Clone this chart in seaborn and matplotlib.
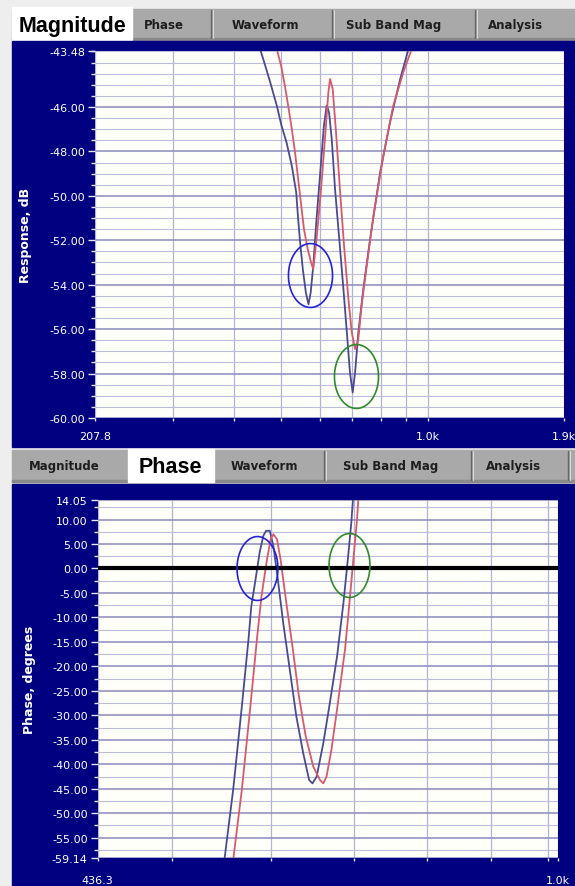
import numpy as np
import matplotlib
matplotlib.use('Agg')
import matplotlib.pyplot as plt
import seaborn as sns
from matplotlib.patches import Rectangle
from matplotlib.path import Path
from matplotlib.ticker import FixedLocator, FixedFormatter, NullFormatter

# ---- magnitude panel data (Hz, dB) ----
mag_blue_freq = [453, 464, 475, 490, 501, 513, 526, 537, 542, 547, 554, 562, 569, 575, 582, 591, 603, 612, 620, 627,
                 635, 645, 658, 671, 682, 692, 701, 709, 720, 737, 761, 798, 836, 877, 912]
mag_blue_db = [-43.4, -44.14, -44.89, -45.94, -46.84, -47.59, -48.65, -49.84, -51.05, -52.10, -53.30, -54.35, -54.88,
               -54.35, -53.15, -51.05, -48.65, -46.84, -45.94, -46.24, -47.44, -49.70, -51.95, -54.20, -56.15, -57.95,
               -58.85, -57.95, -56.15, -54.20, -51.95, -48.94, -46.69, -44.74, -43.4]
mag_red_freq = [490, 500, 509, 517, 526, 534, 542, 549, 557, 567, 576, 582, 591, 603, 615, 625, 630, 638, 648, 660,
                673, 687, 698, 709, 720, 731, 749, 773, 810, 849, 890, 926]
mag_red_db = [-43.4, -44.14, -45.04, -45.94, -46.99, -48.04, -49.25, -50.30, -51.50, -52.40, -53.00, -53.30, -51.95,
              -49.85, -47.44, -45.34, -44.74, -45.19, -47.14, -49.70, -52.25, -54.65, -56.15, -56.90, -56.45, -54.95,
              -53.15, -50.90, -48.20, -45.94, -44.44, -43.4]
mag_ring_freq = [573, 711]
mag_ring_db = [-53.57, -58.11]

mag_yticks = [-43.48, -46, -48, -50, -52, -54, -56, -58, -60]
mag_ylabels = ['-43.48', '-46.00', '-48.00', '-50.00', '-52.00', '-54.00', '-56.00', '-58.00', '-60.00']
mag_xticks = [207.8, 1000, 1900]
mag_xlabels = ['207.8', '1.0k', '1.9k']
mag_xminor = [300, 400, 500, 600, 700, 800, 900]

# ---- phase panel data (Hz, degrees) ----
phase_blue_freq = [551, 560, 569, 576, 579, 583, 588, 592, 595, 599, 603, 607, 614, 622, 629, 637, 644, 648, 653,
                   661, 669, 678, 686, 692, 696, 699]
phase_blue_deg = [-59.6, -45.2, -28.2, -14.5, -7.7, -2.9, 3.3, 6.7, 7.7, 7.7, 4.6, -0.8, -11.1, -21.3, -30.2, -37.7,
                  -43.2, -43.9, -42.5, -35.7, -27.5, -17.9, -7.0, 2.6, 9.4, 16.2]
phase_red_freq = [560, 569, 578, 585, 590, 596, 600, 603, 607, 611, 617, 625, 632, 640, 649, 657, 661, 665, 671,
                  679, 688, 694, 699, 703, 706]
phase_red_deg = [-59.6, -45.2, -28.2, -14.5, -5.6, 1.9, 6.0, 7.0, 6.0, 1.9, -6.3, -16.5, -26.1, -34.3, -40.5, -43.2,
                 -43.9, -42.5, -37.0, -27.5, -16.5, -6.3, 2.6, 9.4, 16.2]
phase_ring_freq = [585, 693]
phase_ring_deg = [0.0, 0.7]

phase_yticks = [14.05, 10, 5, 0, -5, -10, -15, -20, -25, -30, -35, -40, -45, -50, -55, -59.14]
phase_ylabels = ['14.05', '10.00', '5.00', '0.00', '-5.00', '-10.00', '-15.00', '-20.00', '-25.00', '-30.00',
                 '-35.00', '-40.00', '-45.00', '-50.00', '-55.00', '-59.14']
phase_xticks = [436.3, 1018]
phase_xlabels = ['436.3', '1.0k']
phase_xminor = [500, 600, 700, 800, 900, 1000]

ring_colors = ['#2323d8', '#2f8a2f']
blue_line = '#4a4a92'
red_line = '#d8586e'
navy = '#000080'

sns.set_theme(style='white')
plt.rcParams['font.family'] = ['DejaVu Sans']

fig = plt.figure(figsize=(5.75, 8.87), dpi=100)

# window chrome drawn in pixel coordinates
bg = fig.add_axes([0, 0, 1, 1], zorder=0)
bg.set_xlim(0, 575)
bg.set_ylim(887, 0)
bg.axis('off')
bg.add_patch(Rectangle((0, 0), 575, 887, color='#eeeeee'))


def draw_tabs(y0, y1, names, centers, active, active_span, seps):
    bg.add_patch(Rectangle((12, y0), 563, y1 - y0, color='#a9a9a9'))
    bg.add_patch(Rectangle((12, y1 - 2), 563, 2, color='#8a8a8a'))
    for s in seps:
        bg.plot([s, s], [y0 + 1, y1 - 2], color='#666666', lw=1.0)
        bg.plot([s + 1.5, s + 1.5], [y0 + 1, y1 - 2], color='#dcdcdc', lw=0.7)
    a0, a1 = active_span
    bg.add_patch(Rectangle((a0, y0 - 2), a1 - a0, y1 - y0 + 2, color='white'))
    for name, cx in zip(names, centers):
        if name == active:
            bg.text(cx, (y0 + y1) / 2 + 1, name, ha='center', va='center', color='black',
                    fontsize=15.5, fontweight='bold', family=['Liberation Sans', 'DejaVu Sans'])
        else:
            bg.text(cx, (y0 + y1) / 2, name, ha='center', va='center', color='#1e1e1e',
                    fontsize=8.5, fontweight='bold')


tab_names = ['Magnitude', 'Phase', 'Waveform', 'Sub Band Mag', 'Analysis']
draw_tabs(10, 41, tab_names, [72, 164, 265, 394, 515], 'Magnitude', (12, 132), [211, 332, 475])
draw_tabs(451, 483, tab_names, [64, 170, 264, 391, 514], 'Phase', (128, 214), [324, 471, 568])

bg.add_patch(Rectangle((12, 42), 563, 406, color=navy))
bg.add_patch(Rectangle((12, 485), 563, 402, color=navy))

ring_t = np.linspace(0, 2 * np.pi, 80)


def ring_marker(ratio):
    return Path(np.column_stack([ratio * np.cos(ring_t), np.sin(ring_t)]))


def style_axes(ax, xlim, ylim, xt, xl, xminor, yt, yl, yminor, ylabel, label_x, xpad):
    ax.set_facecolor('#fffffa')
    ax.set_xscale('log')
    ax.set_xlim(*xlim)
    ax.set_ylim(*ylim)
    ax.xaxis.set_major_locator(FixedLocator(xt))
    ax.xaxis.set_major_formatter(FixedFormatter(xl))
    ax.xaxis.set_minor_locator(FixedLocator(xminor))
    ax.xaxis.set_minor_formatter(NullFormatter())
    ax.yaxis.set_major_locator(FixedLocator(yt))
    ax.yaxis.set_major_formatter(FixedFormatter(yl))
    ax.yaxis.set_minor_locator(FixedLocator(yminor))
    for s in ax.spines.values():
        s.set_visible(False)
    ax.grid(True, axis='x', which='both', color='#b2b2d4', lw=0.9)
    ax.grid(True, axis='y', which='major', color='#8a8abc', lw=1.1)
    ax.grid(True, axis='y', which='minor', color='#bcbcdc', lw=0.8)
    ax.set_axisbelow(True)
    ax.tick_params(axis='y', which='major', length=5, width=1, color='#e6e6f0', labelcolor='white',
                   labelsize=8, pad=2, left=True)
    ax.tick_params(axis='y', which='minor', length=3, width=1, color='#e6e6f0', left=True)
    ax.tick_params(axis='x', which='both', length=2.5, width=1, color='#e6e6f0', labelcolor='white',
                   labelsize=8, pad=xpad, bottom=True)
    ax.set_xlabel('')
    ax.set_ylabel(ylabel, color='white', fontsize=9, fontweight='bold')
    ax.yaxis.set_label_coords(label_x, 0.5)


# ---- magnitude panel ----
ax1 = fig.add_axes([95 / 575, 1 - 419 / 887, 469 / 575, 367 / 887], zorder=2)
style_axes(ax1, (207.8, 1900), (-60, -43.48), mag_xticks, mag_xlabels, mag_xminor,
           mag_yticks, mag_ylabels, np.arange(-59.5, -43.4, 0.5), 'Response, dB', -0.135, 7)
sns.lineplot(x=mag_blue_freq, y=mag_blue_db, ax=ax1, color=blue_line, lw=1.3, sort=False, estimator=None)
sns.lineplot(x=mag_red_freq, y=mag_red_db, ax=ax1, color=red_line, lw=1.3, sort=False, estimator=None)
for f, v, c in zip(mag_ring_freq, mag_ring_db, ring_colors):
    ax1.plot([f], [v], ls='none', marker=ring_marker(0.69), ms=46, mfc='none', mec=c, mew=1.2)
ax1.set_xlabel('')

# ---- phase panel ----
ax2 = fig.add_axes([97.5 / 575, 1 - 859 / 887, 460.5 / 575, 358.3 / 887], zorder=2)
style_axes(ax2, (436.3, 1018), (-59.14, 14.05), phase_xticks, phase_xlabels, phase_xminor,
           phase_yticks, phase_ylabels, np.arange(-57.5, 14, 2.5), 'Phase, degrees', -0.133, 10)
ax2.axhline(0, color='black', lw=3.0, zorder=3)
sns.lineplot(x=phase_blue_freq, y=phase_blue_deg, ax=ax2, color=blue_line, lw=1.3, sort=False, estimator=None)
sns.lineplot(x=phase_red_freq, y=phase_red_deg, ax=ax2, color=red_line, lw=1.3, sort=False, estimator=None)
for f, v, c in zip(phase_ring_freq, phase_ring_deg, ring_colors):
    ax2.plot([f], [v], ls='none', marker=ring_marker(0.64), ms=46, mfc='none', mec=c, mew=1.2, zorder=4)
ax2.set_xlabel('')

fig.savefig('out.png', dpi=100)
